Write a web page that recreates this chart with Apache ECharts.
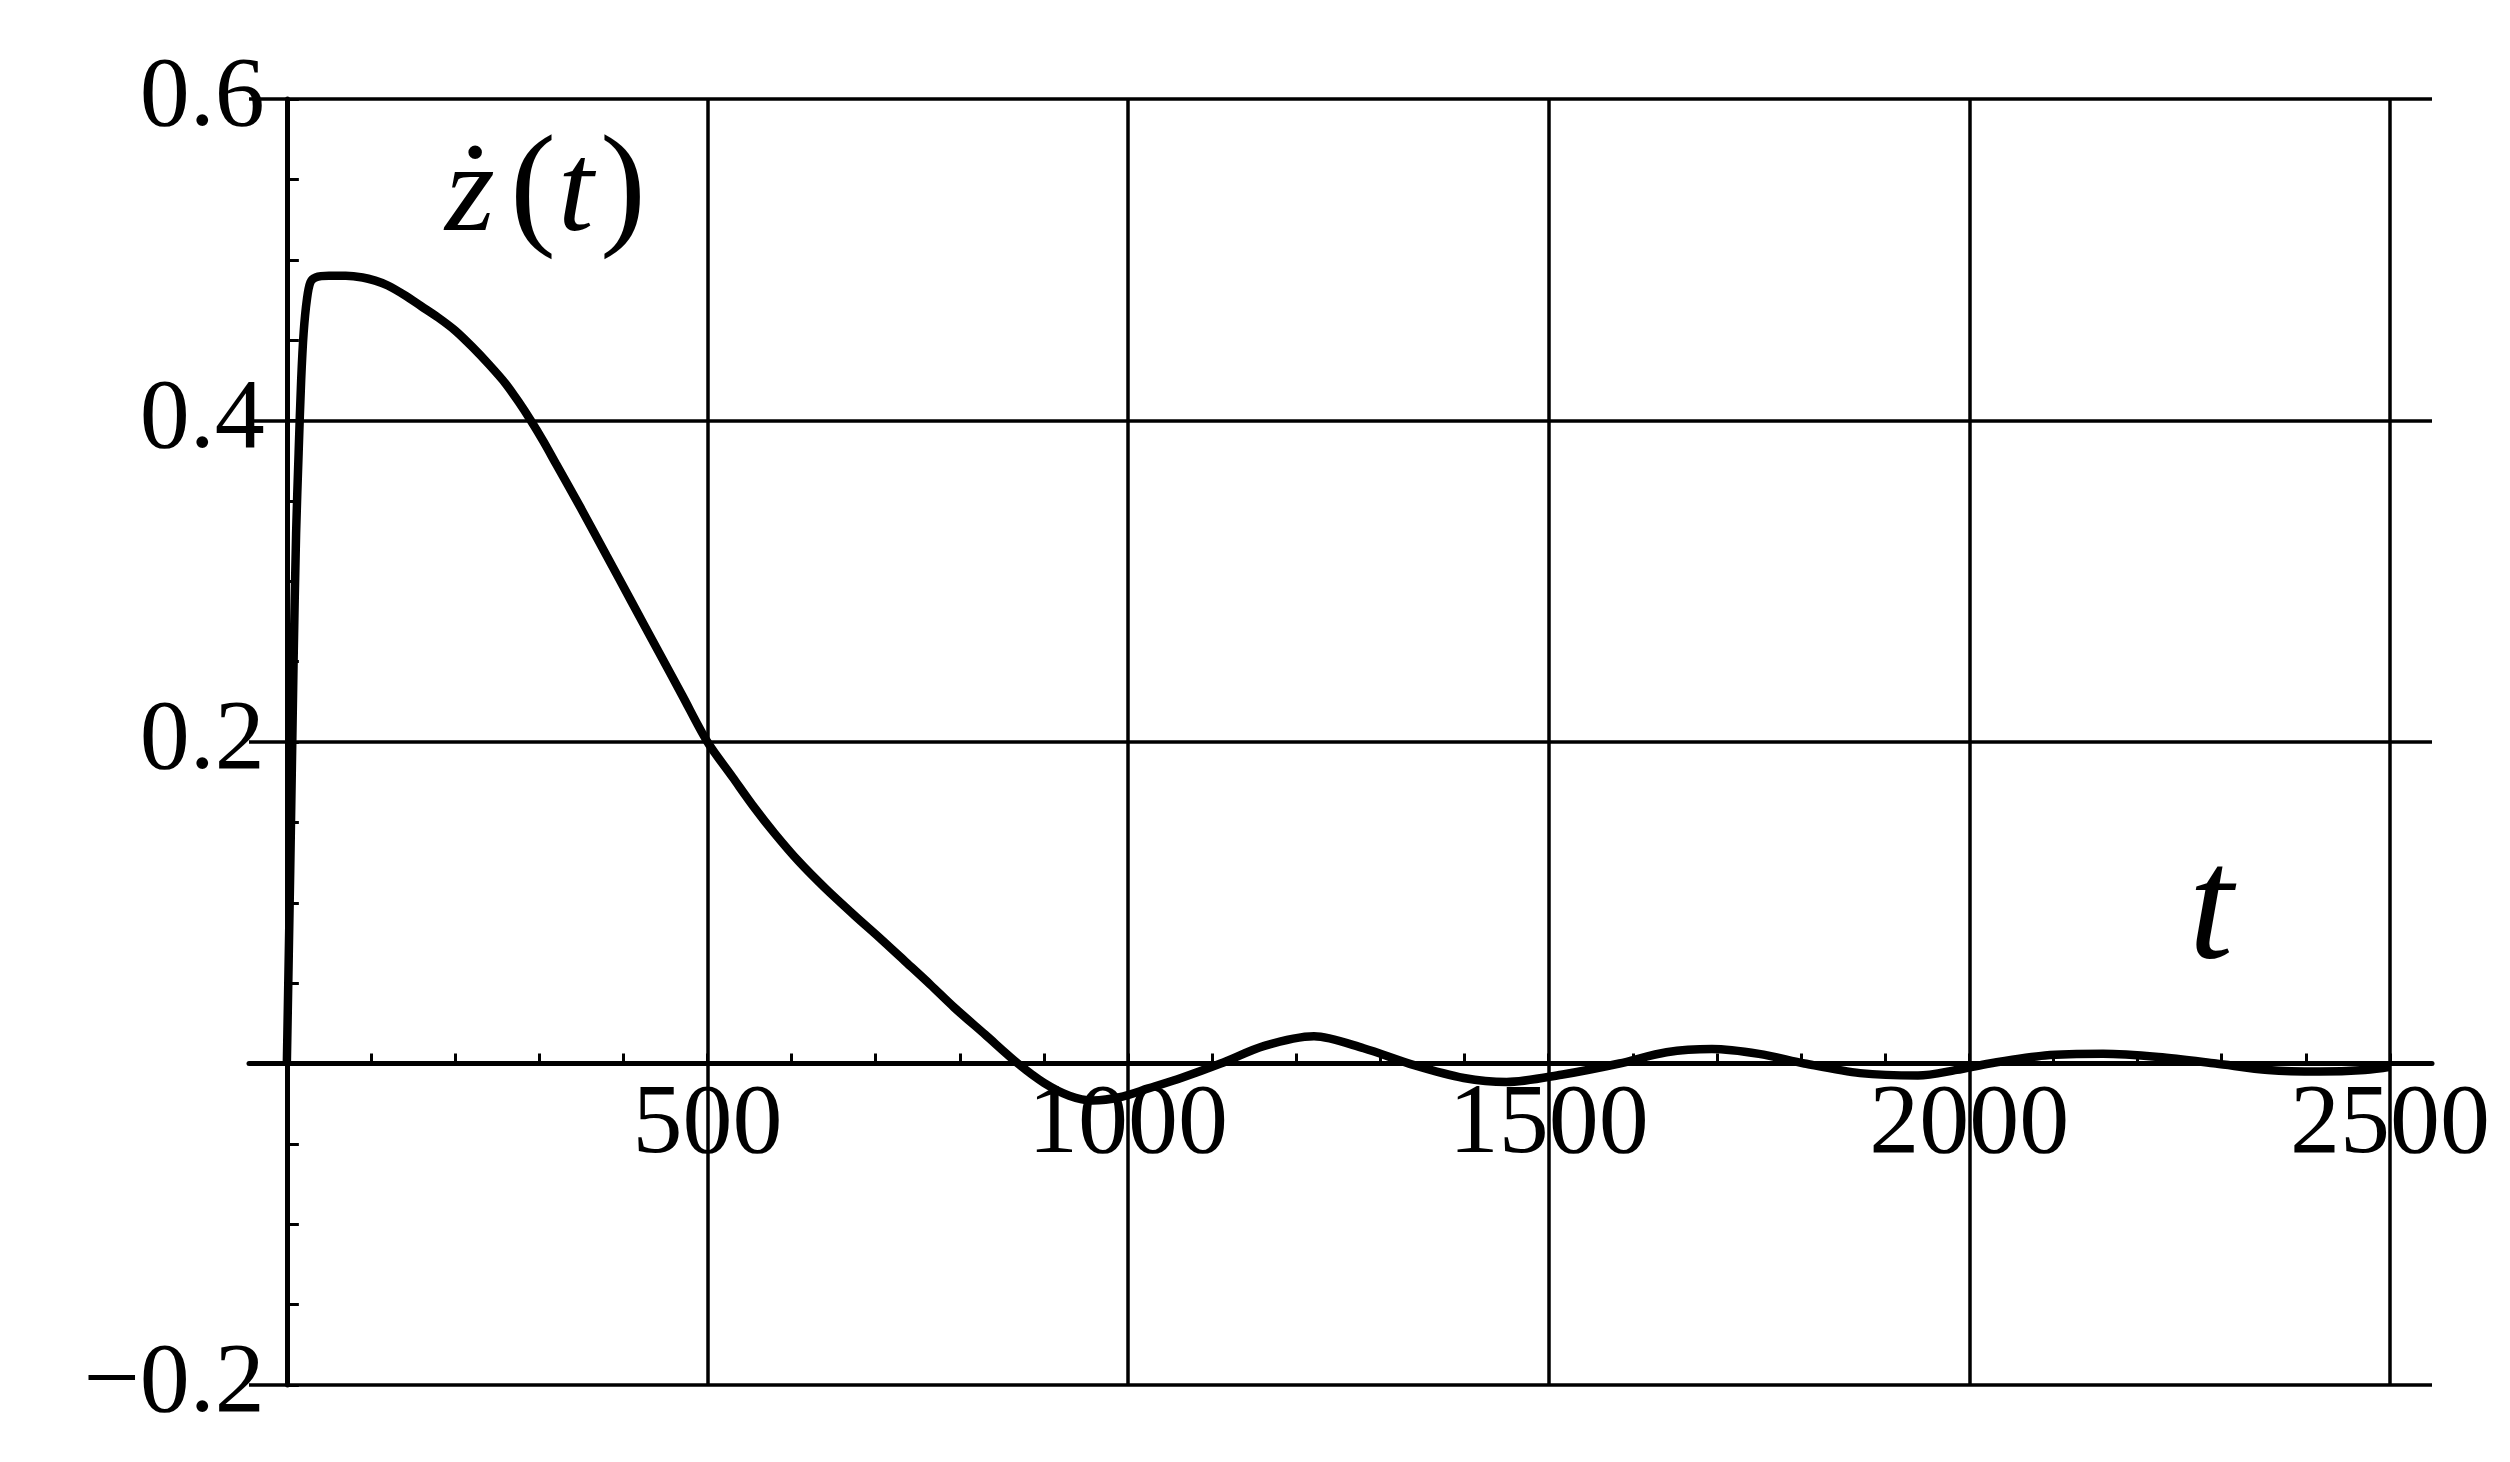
<!DOCTYPE html>
<html>
<head>
<meta charset="utf-8">
<script src="https://cdn.jsdelivr.net/npm/echarts@6.0.0/dist/echarts.min.js"></script>
<style>
html,body{margin:0;padding:0;background:#fff;}
#chart{width:2510px;height:1462px;}
</style>
</head>
<body>
<div id="chart"></div>
<script>
// ---- data ----
const tValues = [0, 4, 8, 11, 14, 17, 20, 24, 28, 34, 50, 70, 90, 105, 120, 140, 160, 180, 200, 220, 240, 260, 275, 290, 305, 320, 350, 380, 410, 440, 470, 500, 530, 556, 580, 608, 640, 675, 705, 734, 765, 793, 830, 869, 900, 930, 958, 990, 1024, 1063, 1110, 1162, 1221, 1280, 1340, 1399, 1450, 1515, 1584, 1640, 1694, 1750, 1804, 1870, 1939, 1985, 2024, 2090, 2159, 2225, 2293, 2355, 2416, 2470, 2500];
const zValues = [0, 0.12, 0.25, 0.33, 0.38, 0.425, 0.455, 0.476, 0.486, 0.489, 0.490, 0.490, 0.489, 0.487, 0.484, 0.478, 0.471, 0.464, 0.456, 0.446, 0.435, 0.423, 0.412, 0.400, 0.387, 0.373, 0.345, 0.316, 0.287, 0.258, 0.229, 0.200, 0.178, 0.159, 0.143, 0.126, 0.109, 0.092, 0.078, 0.064, 0.049, 0.035, 0.018, 0.000, -0.012, -0.020, -0.023, -0.021, -0.0155, -0.009, 0.000, 0.011, 0.017, 0.0095, -0.001, -0.009, -0.0115, -0.007, 0.000, 0.007, 0.009, 0.006, 0.000, -0.006, -0.0075, -0.004, 0.000, 0.005, 0.006, 0.004, 0.000, -0.004, -0.005, -0.004, -0.002];
const xTickValues = [100, 200, 300, 400, 500, 600, 700, 800, 900, 1000, 1100, 1200, 1300, 1400, 1500, 1600, 1700, 1800, 1900, 2000, 2100, 2200, 2300, 2400, 2500];
const xLabelValues = [500, 1000, 1500, 2000, 2500];
const xGridValues = [500, 1000, 1500, 2000, 2500];
const yMin = -0.2, yMax = 0.6, yStep = 0.2;
const xMin = -45, xMax = 2550;

// layout (pixels)
const W = 2510, H = 1462;
const gLeft = 249, gRight = 78, gTop = 99, gBottom = 77;
const gW = W - gLeft - gRight, gH = H - gTop - gBottom;
// move the axes onto the zero lines (labels included)
const xAxisOffset = -((0 - yMin) / (yMax - yMin)) * gH;
const yAxisOffset = -((0 - xMin) / (xMax - xMin)) * gW;

const serif = "'Liberation Serif', 'DejaVu Serif', serif";
const chart = echarts.init(document.getElementById('chart'), null, {renderer: 'canvas'});
chart.setOption({
  backgroundColor: '#ffffff',
  animation: false,
  grid: {left: gLeft, right: gRight, top: gTop, bottom: gBottom, containLabel: false, outerBoundsMode: 'none'},
  xAxis: {
    type: 'value', min: xMin, max: xMax, offset: xAxisOffset,
    axisLine: {show: true, onZero: false, lineStyle: {color: '#000', width: 5}},
    axisTick: {show: true, inside: true, length: 10, customValues: xTickValues, lineStyle: {color: '#000', width: 3}},
    axisLabel: {show: true, customValues: xLabelValues, margin: 12, color: '#000', fontFamily: serif, fontSize: 100,
      formatter: function (v) { return String(v); }},
    splitLine: {show: false}
  },
  yAxis: {
    type: 'value', min: yMin, max: yMax, interval: yStep, offset: yAxisOffset,
    axisLine: {show: true, onZero: false, lineStyle: {color: '#000', width: 5}},
    axisTick: {show: true, inside: true, length: 12, lineStyle: {color: '#000', width: 3}},
    minorTick: {show: true, splitNumber: 4, length: 12, lineStyle: {color: '#000', width: 3}},
    axisLabel: {
      show: true, margin: 22, color: '#000', fontFamily: serif, fontSize: 100,
      formatter: function (v) {
        if (Math.abs(v) < 1e-9) return '';
        return v.toFixed(1).replace('-', '\u2212');
      }
    },
    splitLine: {show: true, lineStyle: {color: '#000', width: 3.5}}
  },
  series: [{
    type: 'line',
    data: tValues.map(function (t, i) { return [t, zValues[i]]; }),
    showSymbol: false,
    smooth: 0.3,
    lineStyle: {color: '#000', width: 8.5},
    markLine: {
      silent: true,
      symbol: ['none', 'none'],
      label: {show: false},
      lineStyle: {color: '#000', width: 3.5, type: 'solid'},
      data: xGridValues.map(function (v) { return {xAxis: v}; })
    }
  }],
  graphic: [
    {type: 'text', x: 445, y: 196, style: {text: '\u017C', fill: '#000', font: 'italic 128px ' + serif, textAlign: 'left', textVerticalAlign: 'middle'}},
    {type: 'text', x: 510, y: 194, style: {text: '(', fill: '#000', font: '138px ' + serif, textAlign: 'left', textVerticalAlign: 'middle'}},
    {type: 'text', x: 558, y: 196, style: {text: 't', fill: '#000', font: 'italic 128px ' + serif, textAlign: 'left', textVerticalAlign: 'middle'}},
    {type: 'text', x: 600, y: 194, style: {text: ')', fill: '#000', font: '138px ' + serif, textAlign: 'left', textVerticalAlign: 'middle'}},
    {type: 'text', x: 2211, y: 915, style: {text: 't', fill: '#000', font: 'italic 160px ' + serif, textAlign: 'center', textVerticalAlign: 'middle'}}
  ]
});
</script>
</body>
</html>
